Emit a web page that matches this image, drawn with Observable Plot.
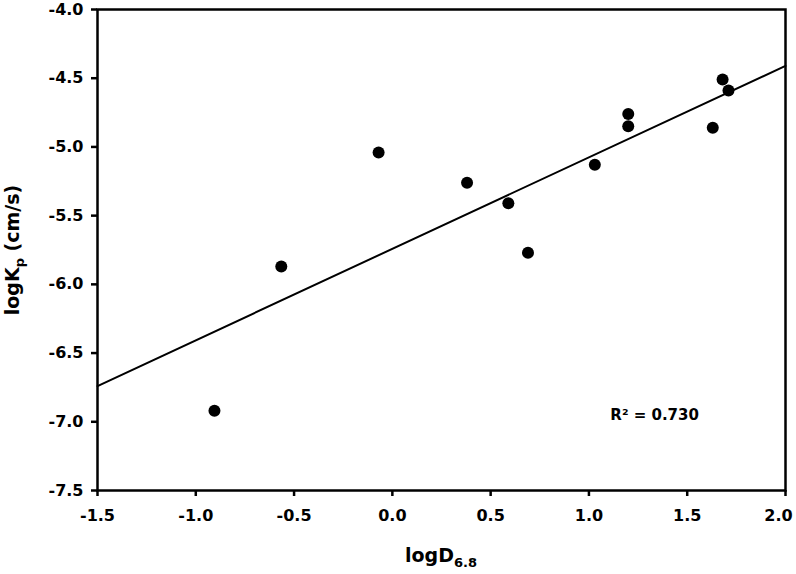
<!DOCTYPE html>
<html>
<head>
<meta charset="utf-8">
<script src="https://cdn.jsdelivr.net/npm/d3@7"></script>
<script src="https://cdn.jsdelivr.net/npm/@observablehq/plot@0.6"></script>
<style>
  html, body { margin: 0; padding: 0; background: #fff; }
</style>
</head>
<body>
<div id="chart"></div>
<script>
// Data
const logD = [-0.905, -0.565, -0.07, 0.38, 0.59, 0.69, 1.03, 1.20, 1.20, 1.63, 1.68, 1.71];
const logKp = [-6.92, -5.87, -5.04, -5.26, -5.41, -5.77, -5.13, -4.76, -4.85, -4.86, -4.51, -4.59];
// Fitted regression line end points
const fitX = [-1.5, 2.0];
const fitY = [-6.74, -4.41];
const xTicks = [-1.5, -1.0, -0.5, 0.0, 0.5, 1.0, 1.5, 2.0];
const yTicks = [-7.5, -7.0, -6.5, -6.0, -5.5, -5.0, -4.5, -4.0];
const r2Label = "R² = 0.730";

const points = logD.map((x, i) => ({x, y: logKp[i]}));
const fit = fitX.map((x, i) => ({x, y: fitY[i]}));

const fmt = d => d.toFixed(1);
const FONT = "'DejaVu Sans', Verdana, sans-serif";

const chart = Plot.plot({
  width: 796,
  height: 574,
  marginTop: 9,
  marginBottom: 84,
  marginLeft: 97,
  marginRight: 11,
  style: {fontFamily: FONT, fontSize: "16px", fontWeight: "bold", background: "#fff", color: "#000"},
  x: {domain: [-1.5, 2.0], label: null},
  y: {domain: [-7.5, -4.0], label: null},
  marks: [
    Plot.line(fit, {x: "x", y: "y", stroke: "#000", strokeWidth: 2}),
    Plot.dot(points, {x: "x", y: "y", r: 6, fill: "#000", stroke: "none"}),
    Plot.text([{x: 1.109, y: -6.95, t: r2Label}], {x: "x", y: "y", text: "t", textAnchor: "start", fontSize: 15, fontWeight: "bold", fill: "#000"}),
    Plot.frame({stroke: "#000", strokeWidth: 2.5}),
    Plot.axisX({ticks: xTicks, tickFormat: fmt, tickSize: 6, tickPadding: 13, strokeWidth: 2.5, fontSize: 16, fontWeight: "bold", label: null}),
    Plot.axisY({ticks: yTicks, tickFormat: fmt, tickSize: 6, tickPadding: 8, strokeWidth: 2.5, fontSize: 16, fontWeight: "bold", label: null})
  ]
});

const svg = d3.select(chart);
// keep the last x tick label inside the picture
const xLabels = svg.selectAll('g[aria-label="x-axis tick label"] text').nodes();
if (xLabels.length) d3.select(xLabels[xLabels.length - 1]).attr("dx", -7);

// Axis titles with subscripts
const xl = svg.append("text")
  .attr("x", 441).attr("y", 562)
  .attr("text-anchor", "middle")
  .style("font-family", FONT)
  .style("font-size", "19px").style("font-weight", "bold").attr("fill", "#000");
xl.append("tspan").text("logD");
xl.append("tspan").attr("dy", 5).style("font-size", "13px").text("6.8");

const yl = svg.append("text")
  .attr("transform", "translate(19,250) rotate(-90)")
  .attr("text-anchor", "middle")
  .style("font-family", FONT)
  .style("font-size", "19px").style("font-weight", "bold").attr("fill", "#000");
yl.append("tspan").text("logK");
yl.append("tspan").attr("dy", 5).style("font-size", "13px").text("p");
yl.append("tspan").attr("dy", -5).text(" (cm/s)");

document.getElementById("chart").appendChild(chart);
</script>
</body>
</html>
